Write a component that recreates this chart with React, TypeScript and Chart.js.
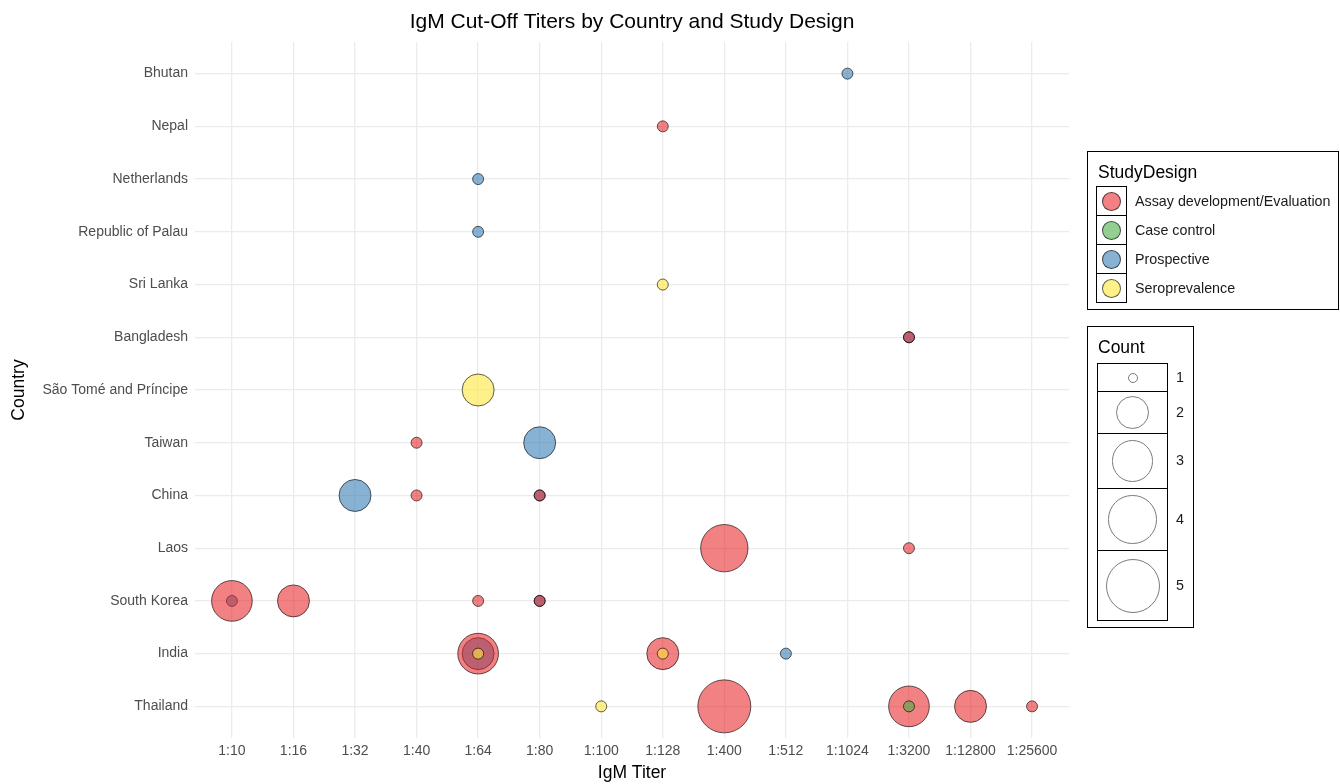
import React, { useEffect, useRef } from "react";
import { Chart, registerables } from "chart.js";
Chart.register(...registerables);

const titers = ["1:10", "1:16", "1:32", "1:40", "1:64", "1:80", "1:100", "1:128", "1:400", "1:512", "1:1024", "1:3200", "1:12800", "1:25600"];
const countries = ["Bhutan", "Nepal", "Netherlands", "Republic of Palau", "Sri Lanka", "Bangladesh", "São Tomé and Príncipe", "Taiwan", "China", "Laos", "South Korea", "India", "Thailand"];
const designs = ["Assay development/Evaluation", "Case control", "Prospective", "Seroprevalence"];
const countLevels = [1, 2, 3, 4, 5];

// [country, titer, count]
const assayPoints: [string, string, number][] = [
  ["Nepal", "1:128", 1],
  ["Bangladesh", "1:3200", 1],
  ["Taiwan", "1:40", 1],
  ["China", "1:40", 1],
  ["China", "1:80", 1],
  ["Laos", "1:400", 4],
  ["Laos", "1:3200", 1],
  ["South Korea", "1:10", 3],
  ["South Korea", "1:16", 2],
  ["South Korea", "1:64", 1],
  ["South Korea", "1:80", 1],
  ["India", "1:64", 3],
  ["India", "1:128", 2],
  ["Thailand", "1:400", 5],
  ["Thailand", "1:3200", 3],
  ["Thailand", "1:12800", 2],
  ["Thailand", "1:25600", 1],
];
const caseControlPoints: [string, string, number][] = [["Thailand", "1:3200", 1]];
const prospectivePoints: [string, string, number][] = [
  ["Bhutan", "1:1024", 1],
  ["Netherlands", "1:64", 1],
  ["Republic of Palau", "1:64", 1],
  ["Bangladesh", "1:3200", 1],
  ["Taiwan", "1:80", 2],
  ["China", "1:32", 2],
  ["China", "1:80", 1],
  ["South Korea", "1:10", 1],
  ["South Korea", "1:80", 1],
  ["India", "1:64", 2],
  ["India", "1:512", 1],
];
const seroPoints: [string, string, number][] = [
  ["Sri Lanka", "1:128", 1],
  ["São Tomé and Príncipe", "1:64", 2],
  ["India", "1:64", 1],
  ["India", "1:128", 1],
  ["Thailand", "1:100", 1],
];

const designPoints = [assayPoints, caseControlPoints, prospectivePoints, seroPoints];
const designFills = ["rgba(230,30,32,0.56)", "rgba(77,175,74,0.6)", "rgba(55,126,184,0.6)", "rgba(255,232,60,0.6)"];
const designOrder = [2, 1, 3, 0];

const FONT = "'Liberation Sans', Arial, sans-serif";
const diam = (c: number) => 12 + 42 * Math.sqrt((c - 1) / 4);

const legendRowHeights = [28, 42, 55, 62, 70];

export default function App() {
  const ref = useRef<HTMLCanvasElement>(null);
  useEffect(() => {
    if (!ref.current) return;
    const titlesPlugin = {
      id: "titles",
      afterDraw(chart: any) {
        const ctx = chart.ctx;
        const a = chart.chartArea;
        ctx.save();
        ctx.fillStyle = "#000";
        ctx.textAlign = "center";
        ctx.textBaseline = "middle";
        ctx.font = `21px ${FONT}`;
        ctx.fillText("IgM Cut-Off Titers by Country and Study Design", (a.left + a.right) / 2, 22);
        ctx.font = `17.5px ${FONT}`;
        ctx.fillText("IgM Titer", (a.left + a.right) / 2, 773);
        ctx.translate(19, (a.top + a.bottom) / 2);
        ctx.rotate(-Math.PI / 2);
        ctx.fillText("Country", 0, 0);
        ctx.restore();
      },
    };
    const datasets = designs.map((d, i) => ({
      label: d,
      order: designOrder[i],
      data: designPoints[i].map(([c, t, n]) => ({ x: titers.indexOf(t), y: countries.indexOf(c), count: n })),
      backgroundColor: designFills[i],
      borderColor: "rgba(0,0,0,0.62)",
      borderWidth: 1,
      pointRadius: (ctx: any) => diam(ctx.raw ? ctx.raw.count : 1) / 2 - 0.5,
      pointHoverRadius: (ctx: any) => diam(ctx.raw ? ctx.raw.count : 1) / 2 - 0.5,
    }));
    const chart = new Chart(ref.current, {
      type: "scatter",
      data: { datasets },
      options: {
        animation: false,
        responsive: false,
        layout: { padding: { left: 0, right: 271, top: 42, bottom: 0 } },
        plugins: { legend: { display: false }, tooltip: { enabled: false }, title: { display: false } },
        scales: {
          x: {
            type: "linear",
            min: -0.6,
            max: titers.length - 1 + 0.6,
            afterFit: (s: any) => { s.height = 46; },
            grid: { color: "#ebebeb", lineWidth: 1.3, drawTicks: false },
            border: { display: false },
            ticks: {
              stepSize: 1,
              includeBounds: false,
              autoSkip: false,
              maxRotation: 0,
              padding: 5,
              color: "#4d4d4d",
              font: { family: FONT, size: 14 },
              callback: (v: any) => (Number.isInteger(v) ? titers[v] : ""),
            },
          },
          y: {
            type: "linear",
            reverse: true,
            min: -0.6,
            max: countries.length - 1 + 0.6,
            afterFit: (s: any) => { s.width = 195; },
            grid: { color: "#ebebeb", lineWidth: 1.3, drawTicks: false },
            border: { display: false },
            ticks: {
              stepSize: 1,
              includeBounds: false,
              autoSkip: false,
              padding: 7,
              color: "#4d4d4d",
              font: { family: FONT, size: 14 },
              callback: (v: any) => (Number.isInteger(v) ? countries[v] : ""),
            },
          },
        },
      },
      plugins: [titlesPlugin],
    } as any);
    return () => chart.destroy();
  }, []);

  return (
    <div style={{ position: "fixed", left: 0, top: 0, width: 1340, height: 784, background: "#fff", fontFamily: FONT, overflow: "hidden" }}>
      <canvas ref={ref} width={1340} height={784} style={{ position: "absolute", left: 0, top: 0 }} />
      <div style={{ position: "absolute", left: 1087, top: 151, width: 250, height: 157, border: "1px solid #000", boxSizing: "content-box" }}>
        <div style={{ position: "absolute", left: 10, top: 9, fontSize: 17.5, color: "#000", lineHeight: "22px" }}>StudyDesign</div>
        <div style={{ position: "absolute", left: 8, top: 34, width: 29, border: "1px solid #000" }}>
          {designs.map((d, i) => (
            <div key={d} style={{ height: 28, borderTop: i ? "1px solid #000" : "none", position: "relative" }}>
              <div style={{ position: "absolute", left: 4.5, top: 4.5, width: 19, height: 19, borderRadius: "50%", background: designFills[i], border: "1px solid rgba(0,0,0,0.62)", boxSizing: "border-box" }} />
            </div>
          ))}
        </div>
        {designs.map((d, i) => (
          <div key={d} style={{ position: "absolute", left: 47, top: 35 + i * 29, height: 28, lineHeight: "28px", fontSize: 14.3, color: "#1a1a1a", whiteSpace: "nowrap" }}>{d}</div>
        ))}
      </div>
      <div style={{ position: "absolute", left: 1087, top: 326, width: 105, height: 300, border: "1px solid #000" }}>
        <div style={{ position: "absolute", left: 10, top: 9, fontSize: 17.5, color: "#000", lineHeight: "22px" }}>Count</div>
        <div style={{ position: "absolute", left: 9, top: 36, width: 69, border: "1px solid #000" }}>
          {countLevels.map((c, i) => (
            <div key={c} style={{ height: legendRowHeights[i] - 1, borderTop: i ? "1px solid #000" : "none", position: "relative", display: "flex", alignItems: "center", justifyContent: "center" }}>
              <div style={{ width: c === 1 ? 10 : diam(c), height: c === 1 ? 10 : diam(c), borderRadius: "50%", border: "1px solid #7a7a7a", boxSizing: "border-box" }} />
            </div>
          ))}
        </div>
        {countLevels.map((c, i) => {
          const top = 36 + legendRowHeights.slice(0, i).reduce((a, b) => a + b, 0);
          return (
            <div key={c} style={{ position: "absolute", left: 88, top, height: legendRowHeights[i], lineHeight: legendRowHeights[i] + "px", fontSize: 14.3, color: "#1a1a1a" }}>{c}</div>
          );
        })}
      </div>
    </div>
  );
}
